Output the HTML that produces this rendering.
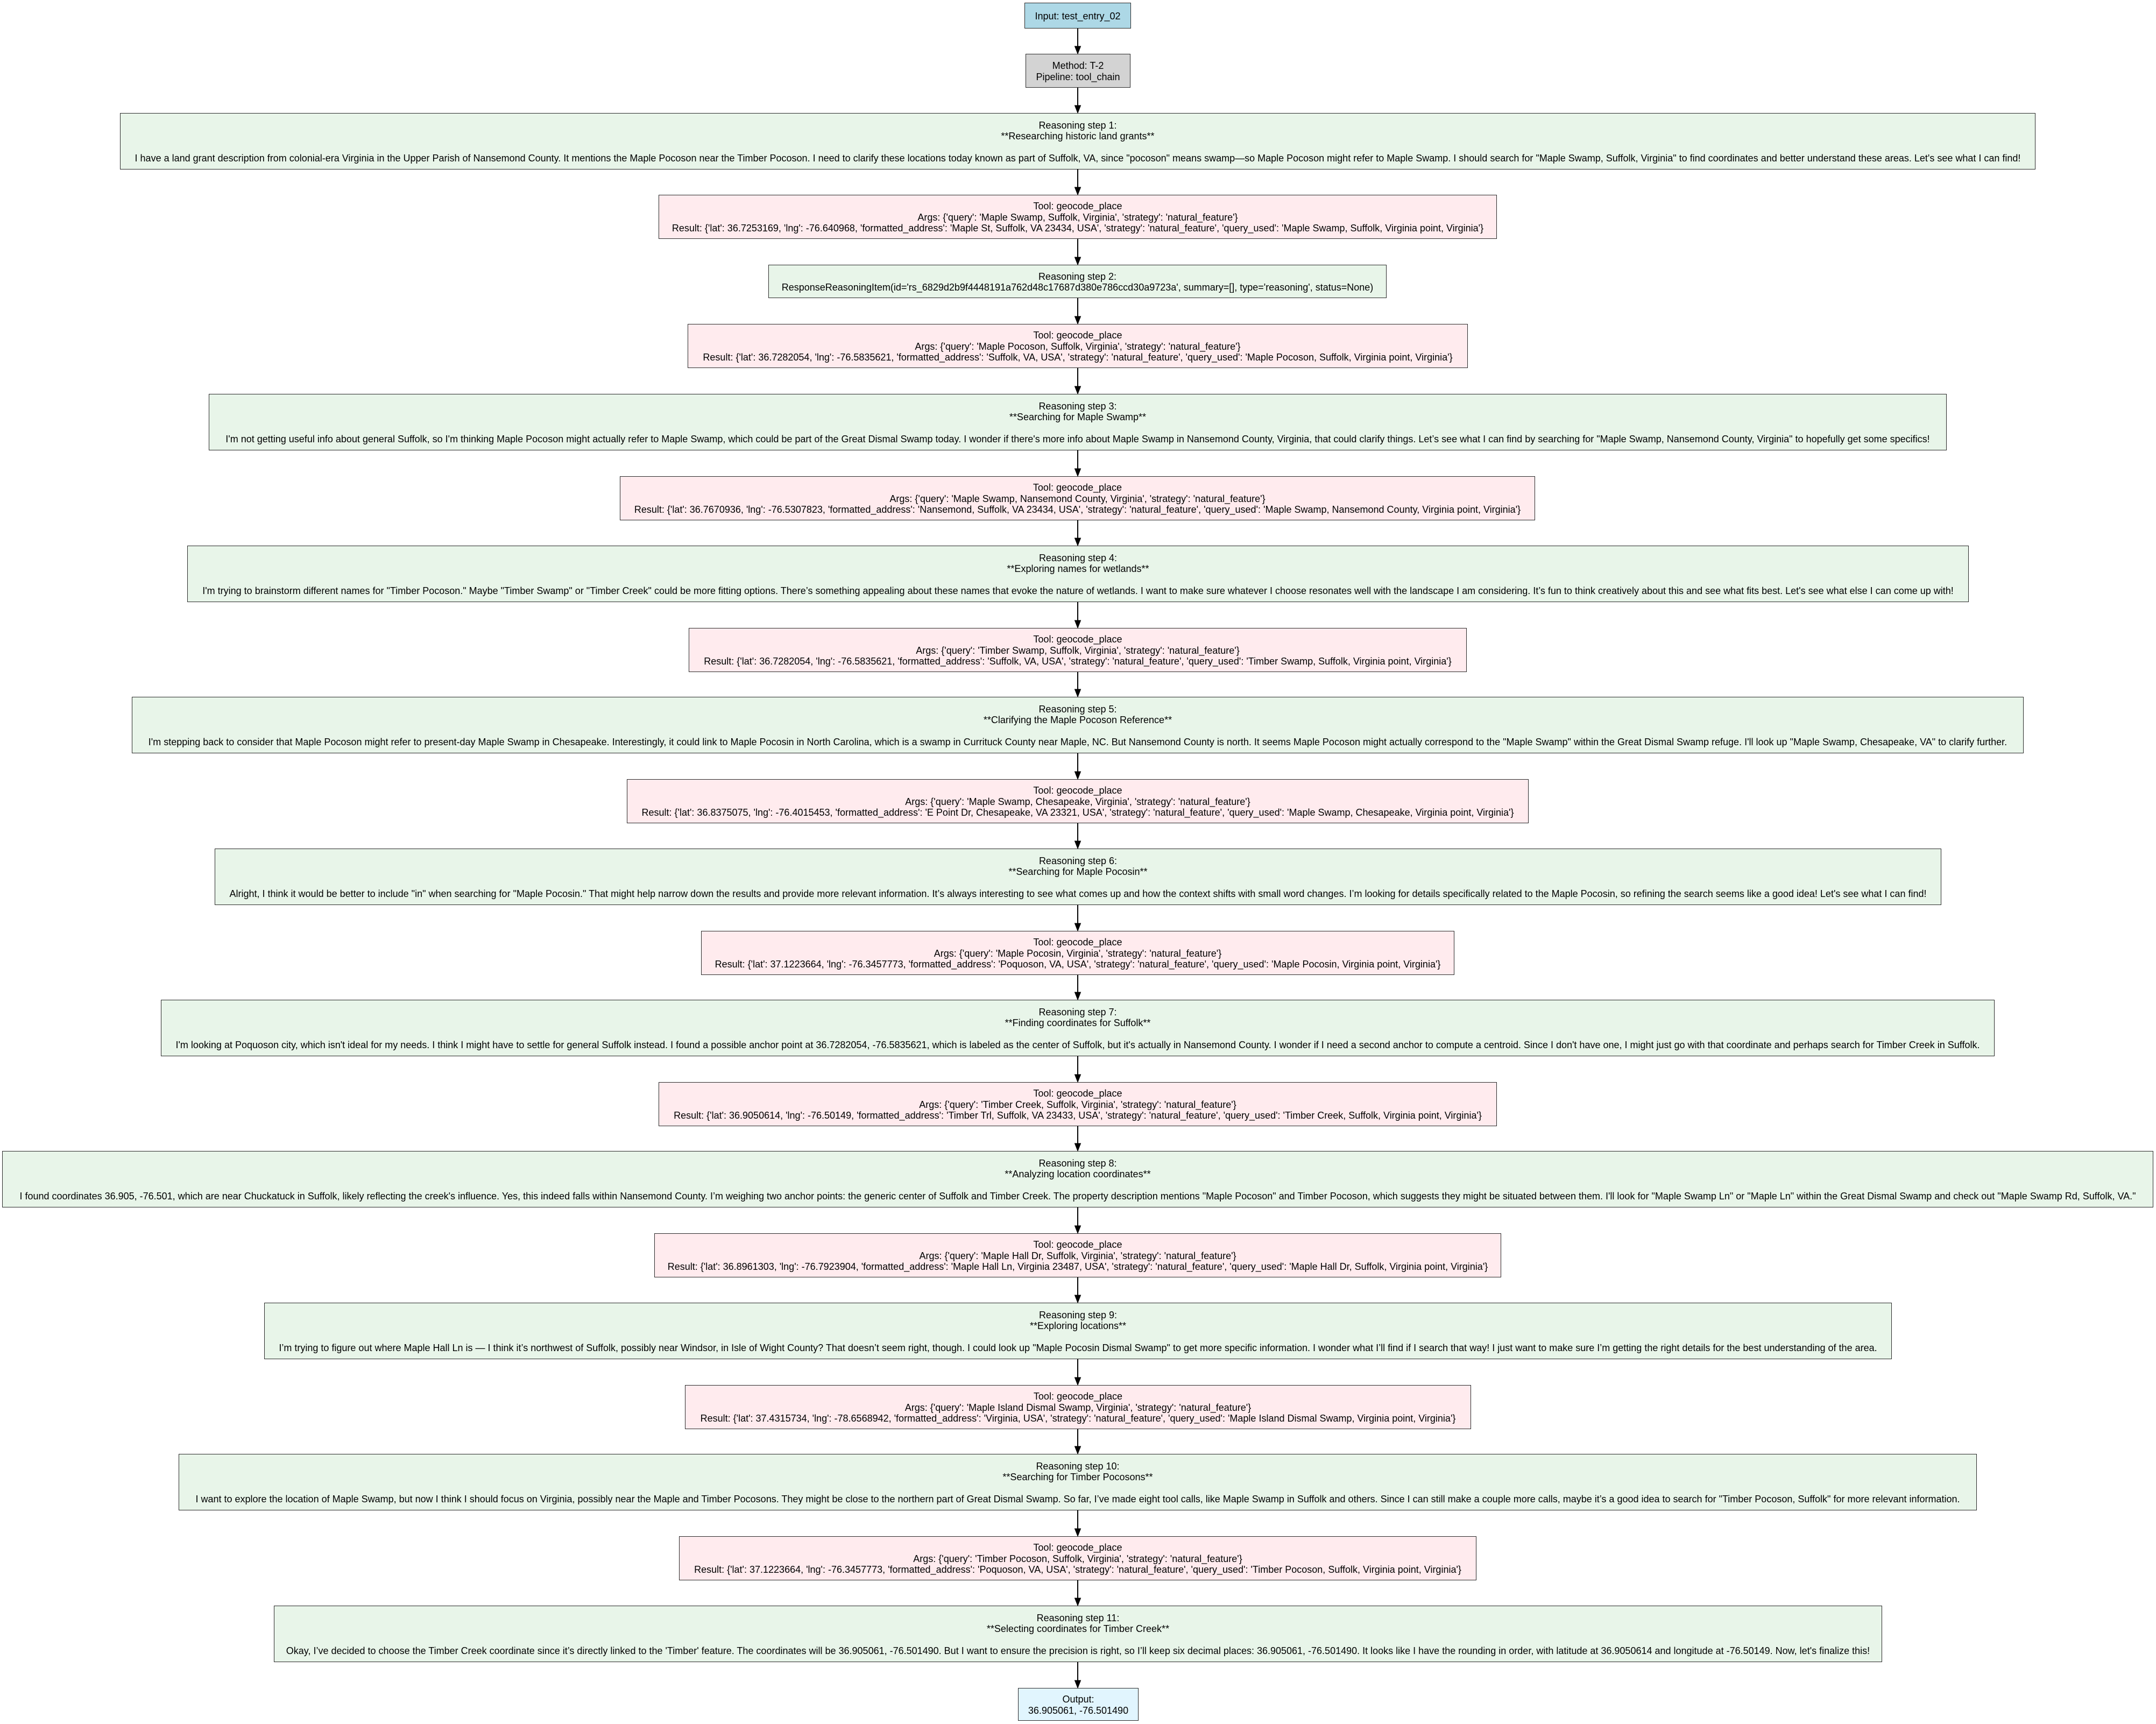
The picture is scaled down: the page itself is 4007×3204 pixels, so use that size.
<!DOCTYPE html>
<html><head><meta charset="utf-8"><style>
html,body{margin:0;padding:0;background:#fff;}
body{width:4007px;height:3204px;position:relative;overflow:hidden;font-family:"Liberation Sans",Arial,sans-serif;font-size:18px;line-height:20.5px;color:#000;}
.n{position:absolute;box-sizing:border-box;border:1.5px solid #2a2a2a;display:flex;align-items:center;justify-content:center;text-align:center;white-space:nowrap;padding-top:2px;}
.r{background:#E8F5E9;height:105px;}
.t{background:#FFEBEE;height:82px;}
svg{position:absolute;left:0;top:0;z-index:5;}
</style></head><body>

<div class="n" style="left:1904px;top:5px;width:198px;height:48px;background:#ADD8E6;">Input: test_entry_02</div>
<div class="n" style="left:1906px;top:100px;width:195px;height:63px;background:#D3D3D3;">Method: T-2<br>Pipeline: tool_chain</div>

<div class="n r" style="left:223px;top:210px;width:3560px;">Reasoning step 1:<br>**Researching historic land grants**<br>&nbsp;<br>I have a land grant description from colonial-era Virginia in the Upper Parish of Nansemond County. It mentions the Maple Pocoson near the Timber Pocoson. I need to clarify these locations today known as part of Suffolk, VA, since "pocoson" means swamp—so Maple Pocoson might refer to Maple Swamp. I should search for "Maple Swamp, Suffolk, Virginia" to find coordinates and better understand these areas. Let's see what I can find!</div>

<div class="n t" style="left:1224px;top:362px;width:1558px;">Tool: geocode_place<br>Args: {'query': 'Maple Swamp, Suffolk, Virginia', 'strategy': 'natural_feature'}<br>Result: {'lat': 36.7253169, 'lng': -76.640968, 'formatted_address': 'Maple St, Suffolk, VA 23434, USA', 'strategy': 'natural_feature', 'query_used': 'Maple Swamp, Suffolk, Virginia point, Virginia'}</div>

<div class="n r" style="left:1428px;top:492px;width:1149px;height:62px;">Reasoning step 2:<br>ResponseReasoningItem(id='rs_6829d2b9f4448191a762d48c17687d380e786ccd30a9723a', summary=[], type='reasoning', status=None)</div>

<div class="n t" style="left:1278px;top:602px;width:1450px;">Tool: geocode_place<br>Args: {'query': 'Maple Pocoson, Suffolk, Virginia', 'strategy': 'natural_feature'}<br>Result: {'lat': 36.7282054, 'lng': -76.5835621, 'formatted_address': 'Suffolk, VA, USA', 'strategy': 'natural_feature', 'query_used': 'Maple Pocoson, Suffolk, Virginia point, Virginia'}</div>

<div class="n r" style="left:388px;top:732px;width:3230px;">Reasoning step 3:<br>**Searching for Maple Swamp**<br>&nbsp;<br>I'm not getting useful info about general Suffolk, so I'm thinking Maple Pocoson might actually refer to Maple Swamp, which could be part of the Great Dismal Swamp today. I wonder if there's more info about Maple Swamp in Nansemond County, Virginia, that could clarify things. Let’s see what I can find by searching for "Maple Swamp, Nansemond County, Virginia" to hopefully get some specifics!</div>

<div class="n t" style="left:1152px;top:885px;width:1701px;">Tool: geocode_place<br>Args: {'query': 'Maple Swamp, Nansemond County, Virginia', 'strategy': 'natural_feature'}<br>Result: {'lat': 36.7670936, 'lng': -76.5307823, 'formatted_address': 'Nansemond, Suffolk, VA 23434, USA', 'strategy': 'natural_feature', 'query_used': 'Maple Swamp, Nansemond County, Virginia point, Virginia'}</div>

<div class="n r" style="left:348px;top:1014px;width:3311px;">Reasoning step 4:<br>**Exploring names for wetlands**<br>&nbsp;<br>I'm trying to brainstorm different names for "Timber Pocoson." Maybe "Timber Swamp" or "Timber Creek" could be more fitting options. There’s something appealing about these names that evoke the nature of wetlands. I want to make sure whatever I choose resonates well with the landscape I am considering. It’s fun to think creatively about this and see what fits best. Let's see what else I can come up with!</div>

<div class="n t" style="left:1280px;top:1167px;width:1446px;">Tool: geocode_place<br>Args: {'query': 'Timber Swamp, Suffolk, Virginia', 'strategy': 'natural_feature'}<br>Result: {'lat': 36.7282054, 'lng': -76.5835621, 'formatted_address': 'Suffolk, VA, USA', 'strategy': 'natural_feature', 'query_used': 'Timber Swamp, Suffolk, Virginia point, Virginia'}</div>

<div class="n r" style="left:245px;top:1295px;width:3516px;">Reasoning step 5:<br>**Clarifying the Maple Pocoson Reference**<br>&nbsp;<br>I'm stepping back to consider that Maple Pocoson might refer to present-day Maple Swamp in Chesapeake. Interestingly, it could link to Maple Pocosin in North Carolina, which is a swamp in Currituck County near Maple, NC. But Nansemond County is north. It seems Maple Pocoson might actually correspond to the "Maple Swamp" within the Great Dismal Swamp refuge. I'll look up "Maple Swamp, Chesapeake, VA" to clarify further.</div>

<div class="n t" style="left:1165px;top:1448px;width:1676px;">Tool: geocode_place<br>Args: {'query': 'Maple Swamp, Chesapeake, Virginia', 'strategy': 'natural_feature'}<br>Result: {'lat': 36.8375075, 'lng': -76.4015453, 'formatted_address': 'E Point Dr, Chesapeake, VA 23321, USA', 'strategy': 'natural_feature', 'query_used': 'Maple Swamp, Chesapeake, Virginia point, Virginia'}</div>

<div class="n r" style="left:399px;top:1577px;width:3209px;">Reasoning step 6:<br>**Searching for Maple Pocosin**<br>&nbsp;<br>Alright, I think it would be better to include "in" when searching for "Maple Pocosin." That might help narrow down the results and provide more relevant information. It’s always interesting to see what comes up and how the context shifts with small word changes. I’m looking for details specifically related to the Maple Pocosin, so refining the search seems like a good idea! Let's see what I can find!</div>

<div class="n t" style="left:1303px;top:1730px;width:1400px;">Tool: geocode_place<br>Args: {'query': 'Maple Pocosin, Virginia', 'strategy': 'natural_feature'}<br>Result: {'lat': 37.1223664, 'lng': -76.3457773, 'formatted_address': 'Poquoson, VA, USA', 'strategy': 'natural_feature', 'query_used': 'Maple Pocosin, Virginia point, Virginia'}</div>

<div class="n r" style="left:299px;top:1858px;width:3408px;">Reasoning step 7:<br>**Finding coordinates for Suffolk**<br>&nbsp;<br>I'm looking at Poquoson city, which isn't ideal for my needs. I think I might have to settle for general Suffolk instead. I found a possible anchor point at 36.7282054, -76.5835621, which is labeled as the center of Suffolk, but it's actually in Nansemond County. I wonder if I need a second anchor to compute a centroid. Since I don't have one, I might just go with that coordinate and perhaps search for Timber Creek in Suffolk.</div>

<div class="n t" style="left:1224px;top:2011px;width:1558px;">Tool: geocode_place<br>Args: {'query': 'Timber Creek, Suffolk, Virginia', 'strategy': 'natural_feature'}<br>Result: {'lat': 36.9050614, 'lng': -76.50149, 'formatted_address': 'Timber Trl, Suffolk, VA 23433, USA', 'strategy': 'natural_feature', 'query_used': 'Timber Creek, Suffolk, Virginia point, Virginia'}</div>

<div class="n r" style="left:4px;top:2139px;width:3998px;">Reasoning step 8:<br>**Analyzing location coordinates**<br>&nbsp;<br>I found coordinates 36.905, -76.501, which are near Chuckatuck in Suffolk, likely reflecting the creek's influence. Yes, this indeed falls within Nansemond County. I’m weighing two anchor points: the generic center of Suffolk and Timber Creek. The property description mentions "Maple Pocoson" and Timber Pocoson, which suggests they might be situated between them. I'll look for "Maple Swamp Ln" or "Maple Ln" within the Great Dismal Swamp and check out "Maple Swamp Rd, Suffolk, VA."</div>

<div class="n t" style="left:1216px;top:2292px;width:1574px;">Tool: geocode_place<br>Args: {'query': 'Maple Hall Dr, Suffolk, Virginia', 'strategy': 'natural_feature'}<br>Result: {'lat': 36.8961303, 'lng': -76.7923904, 'formatted_address': 'Maple Hall Ln, Virginia 23487, USA', 'strategy': 'natural_feature', 'query_used': 'Maple Hall Dr, Suffolk, Virginia point, Virginia'}</div>

<div class="n r" style="left:491px;top:2421px;width:3025px;">Reasoning step 9:<br>**Exploring locations**<br>&nbsp;<br>I’m trying to figure out where Maple Hall Ln is — I think it’s northwest of Suffolk, possibly near Windsor, in Isle of Wight County? That doesn’t seem right, though. I could look up "Maple Pocosin Dismal Swamp" to get more specific information. I wonder what I’ll find if I search that way! I just want to make sure I’m getting the right details for the best understanding of the area.</div>

<div class="n t" style="left:1273px;top:2574px;width:1461px;">Tool: geocode_place<br>Args: {'query': 'Maple Island Dismal Swamp, Virginia', 'strategy': 'natural_feature'}<br>Result: {'lat': 37.4315734, 'lng': -78.6568942, 'formatted_address': 'Virginia, USA', 'strategy': 'natural_feature', 'query_used': 'Maple Island Dismal Swamp, Virginia point, Virginia'}</div>

<div class="n r" style="left:332px;top:2702px;width:3342px;">Reasoning step 10:<br>**Searching for Timber Pocosons**<br>&nbsp;<br>I want to explore the location of Maple Swamp, but now I think I should focus on Virginia, possibly near the Maple and Timber Pocosons. They might be close to the northern part of Great Dismal Swamp. So far, I’ve made eight tool calls, like Maple Swamp in Suffolk and others. Since I can still make a couple more calls, maybe it’s a good idea to search for "Timber Pocoson, Suffolk" for more relevant information.</div>

<div class="n t" style="left:1262px;top:2855px;width:1482px;">Tool: geocode_place<br>Args: {'query': 'Timber Pocoson, Suffolk, Virginia', 'strategy': 'natural_feature'}<br>Result: {'lat': 37.1223664, 'lng': -76.3457773, 'formatted_address': 'Poquoson, VA, USA', 'strategy': 'natural_feature', 'query_used': 'Timber Pocoson, Suffolk, Virginia point, Virginia'}</div>

<div class="n r" style="left:509px;top:2984px;width:2989px;">Reasoning step 11:<br>**Selecting coordinates for Timber Creek**<br>&nbsp;<br>Okay, I’ve decided to choose the Timber Creek coordinate since it’s directly linked to the 'Timber' feature. The coordinates will be 36.905061, -76.501490. But I want to ensure the precision is right, so I’ll keep six decimal places: 36.905061, -76.501490. It looks like I have the rounding in order, with latitude at 36.9050614 and longitude at -76.50149. Now, let's finalize this!</div>

<div class="n" style="left:1892px;top:3137px;width:224px;height:61px;background:#E1F5FE;">Output:<br>36.905061, -76.501490</div>

<svg width="4007" height="3204" id="s"></svg>
<script>
var ys=[[53,100],[163,210],[314,362],[444,492],[554,602],[684,732],
[837,885],[967,1014],[1119,1167],[1249,1295],[1400,1448],[1530,1577],
[1682,1730],[1812,1858],[1963,2011],[2093,2139],[2244,2292],[2374,2421],
[2526,2574],[2656,2702],[2807,2855],[2937,2984],[3089,3137]];
var s='';
ys.forEach(function(p){var a=p[0],c=p[1];s+='<line x1="2003" y1="'+a+'" x2="2003" y2="'+(c-13)+'" stroke="#000" stroke-width="2"/><polygon points="1997.5,'+(c-14)+' 2008.5,'+(c-14)+' 2003,'+c+'" fill="#000" stroke="#000" stroke-width="1"/>';});
document.getElementById('s').innerHTML=s;
</script>
</body></html>
